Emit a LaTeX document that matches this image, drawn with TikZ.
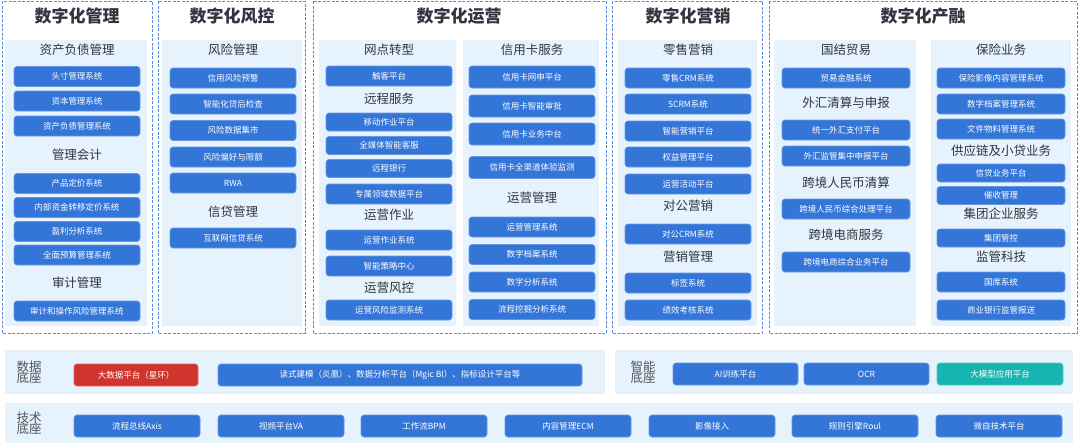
\documentclass[tikz,border=0pt]{standalone}
\usepackage{fontspec}
\setmainfont{Noto Sans CJK SC}
\definecolor{sysblue}{HTML}{3475D8}
\definecolor{bgblue}{HTML}{E6F3FC}
\definecolor{dashblue}{HTML}{5A8EDB}
\definecolor{sysred}{HTML}{D0352D}
\definecolor{systeal}{HTML}{17B5B0}
\definecolor{txtgray}{HTML}{30353F}
\tikzset{
  panel/.style = {draw=dashblue, line width=0.9pt, dash pattern=on 3pt off 1.5pt},
  bgbox/.style = {fill=bgblue, draw=none},
  ttl/.style   = {font=\fontsize{17}{17}\selectfont\bfseries, text=txtgray},
  hdr/.style   = {font=\fontsize{12.5}{13}\selectfont, text=txtgray},
  lbl/.style   = {font=\fontsize{12.5}{14}\selectfont, text=txtgray!85!white, align=center},
  sys/.style   = {rectangle, rounded corners=3pt, fill=sysblue, draw=sysblue!75!white,
                  line width=0.6pt, text=white, minimum width=126pt, minimum height=20pt,
                  inner sep=0pt, font=\fontsize{8.5}{9}\selectfont},
}
\begin{document}
\begin{tikzpicture}[x=1pt,y=-1pt]
  \useasboundingbox (0,0) rectangle (1080,445);

  % outer panels
  \draw[panel] (2,1) rectangle (152,333);
  \draw[panel] (158,1) rectangle (305,333);
  \draw[panel] (313,1) rectangle (606,333);
  \draw[panel] (612,1) rectangle (762,333);
  \draw[panel] (769,1) rectangle (1077,333);

  % light backgrounds
  \fill[bgbox] (5,40) rectangle (147,326);
  \fill[bgbox] (162,40) rectangle (302,326);
  \fill[bgbox] (319,40) rectangle (456,326);
  \fill[bgbox] (463,40) rectangle (599,326);
  \fill[bgbox] (618,40) rectangle (757,326);
  \fill[bgbox] (774,40) rectangle (916,326);
  \fill[bgbox] (931,40) rectangle (1071,326);
  \fill[bgbox] (5,350) rectangle (605,394);
  \fill[bgbox] (615,350) rectangle (1073,394);
  \fill[bgbox] (5,403) rectangle (1073,443);

  % titles
  \node[ttl] (tmgmt) at (77,16)  {数字化管理};
  \node[ttl] (trisk) at (232,16) {数字化风控};
  \node[ttl] (toper) at (459,16) {数字化运营};
  \node[ttl] (tmkt)  at (688,16) {数字化营销};
  \node[ttl] (tfin)  at (923,16) {数字化产融};

  % 数字化管理
  \node[hdr] (h11) at (77,50)  {资产负债管理};
  \node[sys] (m1) at (77,76.5) {头寸管理系统};
  \node[sys] (m2) at (77,101)  {资本管理系统};
  \node[sys] (m3) at (77,126)  {资产负债管理系统};
  \node[hdr] (h12) at (77,155) {管理会计};
  \node[sys] (m4) at (77,183.5) {产品定价系统};
  \node[sys] (m5) at (77,207.5) {内部资金转移定价系统};
  \node[sys] (m6) at (77,231.5) {盈利分析系统};
  \node[sys] (m7) at (77,255)  {全面预算管理系统};
  \node[hdr] (h13) at (77,283) {审计管理};
  \node[sys] (m8) at (77,311)  {审计和操作风险管理系统};

  % 数字化风控
  \node[hdr] (h21) at (233,50)  {风险管理};
  \node[sys] (r1) at (233,78)   {信用风险预警};
  \node[sys] (r2) at (233,104)  {智能化贷后检查};
  \node[sys] (r3) at (233,130.5) {风险数据集市};
  \node[sys] (r4) at (233,157)  {风险偏好与限额};
  \node[sys] (r5) at (233,183)  {RWA};
  \node[hdr] (h22) at (233,212) {信贷管理};
  \node[sys] (r6) at (233,238)  {互联网信贷系统};

  % 数字化运营
  \node[hdr] (h31) at (389,50)  {网点转型};
  \node[sys] (o1) at (389,76)   {触客平台};
  \node[hdr] (h32) at (389,99)  {远程服务};
  \node[sys, minimum height=18pt] (o2) at (389,122)   {移动作业平台};
  \node[sys, minimum height=18pt] (o3) at (389,145.5) {全媒体智能客服};
  \node[sys, minimum height=18pt] (o4) at (389,168.5) {远程银行};
  \node[sys] (o5) at (389,194)  {专属领域数据平台};
  \node[hdr] (h33) at (389,215) {运营作业};
  \node[sys] (o6) at (389,240)  {运营作业系统};
  \node[sys] (o7) at (389,266)  {智能策略中心};
  \node[hdr] (h34) at (389,288) {运营风控};
  \node[sys] (o8) at (389,310)  {运营风险监测系统};

  \node[hdr] (h35) at (532,50)  {信用卡服务};
  \node[sys, minimum height=22pt] (c1) at (532,77)    {信用卡网申平台};
  \node[sys, minimum height=22pt] (c2) at (532,106)   {信用卡智能审批};
  \node[sys, minimum height=22pt] (c3) at (532,134)   {信用卡业务中台};
  \node[sys, minimum height=22pt] (c4) at (532,167.5) {信用卡全渠道体验监测};
  \node[hdr] (h36) at (532,198) {运营管理};
  \node[sys] (c5) at (532,227)   {运营管理系统};
  \node[sys] (c6) at (532,254.5) {数字档案系统};
  \node[sys] (c7) at (532,282)   {数字分析系统};
  \node[sys] (c8) at (532,309.5) {流程挖掘分析系统};

  % 数字化营销
  \node[hdr] (h41) at (688,50)  {零售营销};
  \node[sys] (k1) at (688,78)   {零售CRM系统};
  \node[sys] (k2) at (688,104)  {SCRM系统};
  \node[sys] (k3) at (688,131)  {智能营销平台};
  \node[sys] (k4) at (688,157)  {权益管理平台};
  \node[sys] (k5) at (688,184)  {运营活动平台};
  \node[hdr] (h42) at (688,206) {对公营销};
  \node[sys] (k6) at (688,234)  {对公CRM系统};
  \node[hdr] (h43) at (688,257) {营销管理};
  \node[sys] (k7) at (688,283)  {标签系统};
  \node[sys] (k8) at (688,310)  {绩效考核系统};

  % 数字化产融
  \node[hdr] (h51) at (846,50)  {国结贸易};
  \node[sys, minimum width=128pt] (f1) at (846,78)  {贸易金融系统};
  \node[hdr] (h52) at (846,103) {外汇清算与申报};
  \node[sys, minimum width=128pt] (f2) at (846,130) {统一外汇支付平台};
  \node[sys, minimum width=128pt] (f3) at (846,156) {外汇监管集中申报平台};
  \node[hdr] (h53) at (846,183) {跨境人民币清算};
  \node[sys, minimum width=128pt] (f4) at (846,209) {跨境人民币综合处理平台};
  \node[hdr] (h54) at (846,235) {跨境电商服务};
  \node[sys, minimum width=128pt] (f5) at (846,262) {跨境电商综合业务平台};

  \node[hdr] (h55) at (1001,50)  {保险业务};
  \node[sys, minimum width=128pt] (s1) at (1001,78)  {保险影像内容管理系统};
  \node[sys, minimum width=128pt] (s2) at (1001,104) {数字档案管理系统};
  \node[sys, minimum width=128pt] (s3) at (1001,129) {文件物料管理系统};
  \node[hdr] (h56) at (1001,151) {供应链及小贷业务};
  \node[sys, minimum width=128pt, minimum height=18pt] (s4) at (1001,173)   {信贷业务平台};
  \node[sys, minimum width=128pt, minimum height=18pt] (s5) at (1001,195.5) {催收管理};
  \node[hdr] (h57) at (1001,214) {集团企业服务};
  \node[sys, minimum width=128pt, minimum height=18pt] (s6) at (1001,238)   {集团管控};
  \node[hdr] (h58) at (1001,257) {监管科技};
  \node[sys, minimum width=128pt] (s7) at (1001,282) {国库系统};
  \node[sys, minimum width=128pt] (s8) at (1001,310) {商业银行监管报送};

  % 底座
  \node[lbl] (ldata) at (29,372)  {数据\\[-3pt]底座};
  \node[lbl] (lai)   at (643,372) {智能\\[-3pt]底座};
  \node[lbl] (ltech) at (29,423)  {技术\\[-3pt]底座};

  \node[sys, fill=sysred, draw=sysred!75!white, minimum width=124pt, minimum height=22pt] (d1) at (136,375) {大数据平台（星环）};
  \node[sys, minimum width=364pt, minimum height=22pt] (d2) at (400,375) {读式建模（炎凰）、数据分析平台（Mgic BI）、指标设计平台等};

  \node[sys, minimum width=125pt, minimum height=22pt] (a1) at (735.5,374) {AI训练平台};
  \node[sys, minimum width=125pt, minimum height=22pt] (a2) at (866.5,374) {OCR};
  \node[sys, fill=systeal, draw=systeal!75!white, minimum width=126pt, minimum height=22pt] (a3) at (1000,374) {大模型应用平台};

  \node[sys, minimum height=22pt] (t1) at (137,426) {流程总线Axis};
  \node[sys, minimum height=22pt] (t2) at (281,426) {视频平台VA};
  \node[sys, minimum height=22pt] (t3) at (424,426) {工作流BPM};
  \node[sys, minimum height=22pt] (t4) at (568,426) {内容管理ECM};
  \node[sys, minimum height=22pt] (t5) at (712,426) {影像接入};
  \node[sys, minimum height=22pt] (t6) at (855,426) {规则引擎Roul};
  \node[sys, minimum height=22pt] (t7) at (999,426) {微自技术平台};
\end{tikzpicture}
\end{document}
